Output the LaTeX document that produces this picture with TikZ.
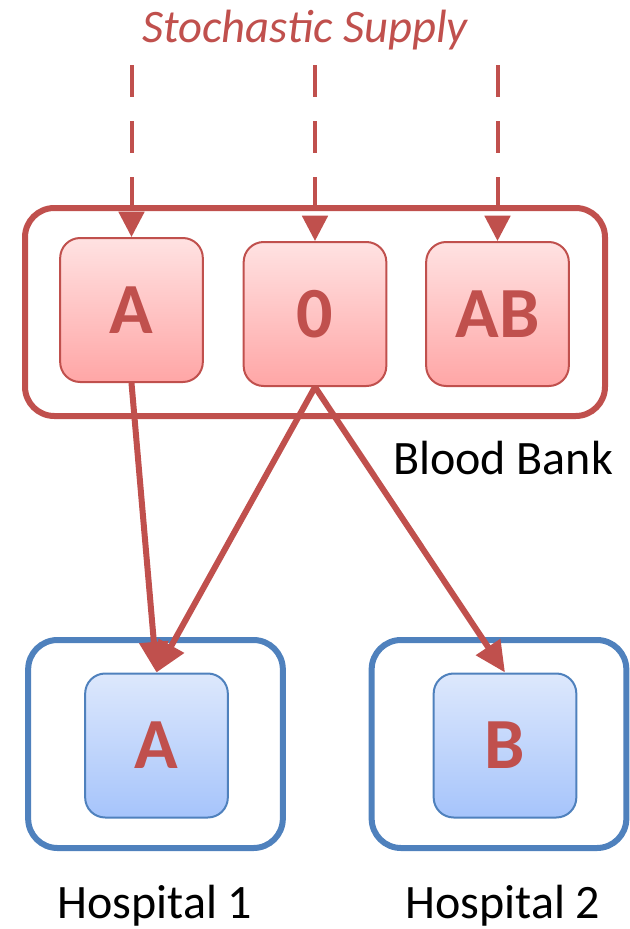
\documentclass[tikz,border=0pt]{standalone}
\usepackage{fontspec}
\setmainfont{Carlito}
\usetikzlibrary{arrows.meta}
\definecolor{bankred}{HTML}{C0504D}
\definecolor{hospblue}{HTML}{4F81BD}
\definecolor{banktop}{HTML}{FFE2E2}
\definecolor{bankbot}{HTML}{FFA6A6}
\definecolor{hosptop}{HTML}{DDE8FC}
\definecolor{hospbot}{HTML}{A6C4FB}

\begin{document}
\begin{tikzpicture}[
  x=0.75pt,
  y=-0.75pt,
  bankbox/.style={draw=bankred,line width=4.5pt,rounded corners=22pt,minimum width=435pt,minimum height=156pt},
  hospbox/.style={draw=hospblue,line width=4.5pt,rounded corners=22pt,minimum width=191pt,minimum height=156pt},
  unit/.style={line width=1.5pt,rounded corners=15pt,minimum width=107pt,minimum height=108pt,
    text=bankred,font=\fontsize{54}{54}\selectfont\bfseries},
  bankunit/.style={unit,draw=bankred,top color=banktop,bottom color=bankbot},
  hospunit/.style={unit,draw=hospblue,top color=hosptop,bottom color=hospbot},
  supply/.style={draw=bankred,line width=3pt,dash pattern=on 24pt off 18pt,-{Triangle[length=19pt,width=19pt]}},
  match/.style={draw=bankred,line width=4.5pt,-{Triangle[length=23pt,width=21pt]}},
  lab/.style={font=\fontsize{36}{36}\selectfont}
]
\useasboundingbox (0,0) rectangle (630,929);

\node[bankbox] (bank) at (315,312) {};
\node[hospbox] (hosp1) at (155.5,744) {};
\node[hospbox] (hosp2) at (499,744) {};

\node[bankunit] (bankA) at (131.5,310) {A};
\node[bankunit] (bankO) at (315,314) {0};
\node[bankunit] (bankAB) at (497.5,314) {AB};
\node[hospunit] (hospA) at (156.5,745.5) {A};
\node[hospunit] (hospB) at (505,745.5) {B};

\node[lab,text=bankred,font=\fontsize{35}{35}\selectfont\itshape] (title) at (305,30) {Stochastic Supply};
\node[lab] (banklab) at (503,458) {Blood Bank};
\node[lab] (h1lab) at (155,906) {Hospital 1};
\node[lab] (h2lab) at (503,906) {Hospital 2};

% supply
\coordinate (supA) at (131.5,65);
\coordinate (supO) at (315,65);
\coordinate (supAB) at (497.5,65);
\draw[supply] (supA) -- (bankA.north);
\draw[supply] (supO) -- (bankO.north);
\draw[supply] (supAB) -- (bankAB.north);

% allocation
\draw[match] (bankA.south) -- (hospA.north);
\draw[match] (bankO.south) -- (hospA.north);
\draw[match] (bankO.south) -- (hospB.north);
\end{tikzpicture}
\end{document}
